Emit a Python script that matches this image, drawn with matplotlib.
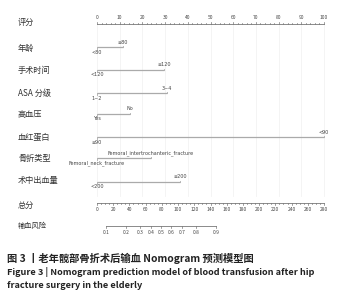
import numpy as np
import matplotlib
matplotlib.use("Agg")
import matplotlib.pyplot as plt

plt.rcParams['font.family'] = ['Noto Sans CJK SC', 'DejaVu Sans']

# ---- data ----
row_names = ["年龄", "手术时间", "ASA 分级", "高血压", "血红蛋白", "骨折类型", "术中出血量"]
level_low = ["<80", "<120", "1~2", "Yes", "≥90", "Femoral_neck_fracture", "<200"]
level_high = ["≥80", "≥120", "3~4", "No", "<90", "Femoral_intertrochanteric_fracture", "≥200"]
level_points = [11.3, 29.5, 30.8, 14.5, 100.0, 23.8, 36.6]

points_ticks = list(range(0, 101, 10))
total_ticks = list(range(0, 281, 20))
total_max = 280
risk_ticks = [0.1, 0.2, 0.3, 0.4, 0.5, 0.6, 0.7, 0.8, 0.9]
risk_intercept_tp = 79.0   # total points at risk 0.5
risk_slope = 0.0324        # logit per total point

# ---- layout (pixel rows) ----
W, H = 345, 300
x0_px, x100_px = 97.0, 324.0
pxpp = (x100_px - x0_px) / 100.0
fig = plt.figure(figsize=(W / 100, H / 100), dpi=100)
ax = fig.add_axes([0, 0, 1, 1])
ax.set_xlim(-x0_px / pxpp, (W - x0_px) / pxpp)
ax.set_ylim(H, 0)
ax.axis('off')

lab_x = -x0_px / pxpp + 18 / pxpp
lab_color = '#333333'
line_col = '#aaaaaa'
axis_col = '#777777'
tick_fs = 3.5
name_fs = 5.9

# faint grid
for p in points_ticks:
    ax.plot([p, p], [24, 196], color='#f3f3f3', lw=0.6, zorder=0)

# Points axis
y_pts = 24
ax.text(lab_x, 22, "评分", fontsize=name_fs, color=lab_color, va='center', ha='left')
ax.plot([0, 100], [y_pts, y_pts], color=axis_col, lw=0.6)
for p in np.arange(0, 101, 2):
    major = (p % 10 == 0)
    ax.plot([p, p], [y_pts, y_pts - (2.2 if major else 1.3)], color=axis_col, lw=0.5)
for p in points_ticks:
    ax.text(p, y_pts - 4, str(p), fontsize=tick_fs, ha='center', va='bottom', color='#444444')

# variable rows
row_line_y = [47, 70, 93, 114, 137, 158, 182]
row_label_y = [48, 70, 93, 115, 137, 158, 181]
for name, lo, hi, pts, yl, yt in zip(row_names, level_low, level_high, level_points, row_line_y, row_label_y):
    ax.text(lab_x, yt, name, fontsize=name_fs, color=lab_color, va='center', ha='left')
    ax.plot([0, pts], [yl, yl], color=line_col, lw=0.9, solid_capstyle='butt')
    ax.plot([0, 0], [yl, yl + 1.5], color=line_col, lw=0.6)
    ax.plot([pts, pts], [yl, yl - 1.5], color=line_col, lw=0.6)
    ax.text(0, yl + 2.5, lo, fontsize=tick_fs, ha='center', va='top', color='#444444',
            family=['DejaVu Sans'])
    ax.text(pts, yl - 2.5, hi, fontsize=tick_fs, ha='center', va='bottom', color='#444444',
            family=['DejaVu Sans'])

# Total points axis
y_tot = 203
ax.text(lab_x, 205, "总分", fontsize=name_fs, color=lab_color, va='center', ha='left')
scale = 100.0 / total_max
ax.plot([0, total_max * scale], [y_tot, y_tot], color=axis_col, lw=0.6)
for t in np.arange(0, total_max + 1, 5):
    major = (t % 20 == 0)
    ax.plot([t * scale, t * scale], [y_tot, y_tot + (2.2 if major else 1.3)], color=axis_col, lw=0.5)
for t in total_ticks:
    ax.text(t * scale, y_tot + 4, str(t), fontsize=tick_fs, ha='center', va='top', color='#444444')

# Risk axis
y_risk = 226
ax.text(lab_x, 226, "输血风险", fontsize=5.2, color=lab_color, va='center', ha='left')
risk_tp = [risk_intercept_tp + np.log(r / (1 - r)) / risk_slope for r in risk_ticks]
ax.plot([risk_tp[0] * scale, risk_tp[-1] * scale], [y_risk, y_risk], color=axis_col, lw=0.6)
for r, tp in zip(risk_ticks, risk_tp):
    ax.plot([tp * scale, tp * scale], [y_risk, y_risk + 2], color=axis_col, lw=0.5)
    ax.text(tp * scale, y_risk + 4, f"{r:.1f}", fontsize=tick_fs, ha='center', va='top', color='#444444')

# captions
cap_x = -x0_px / pxpp + 7 / pxpp
ax.text(cap_x, 258, "图 3 丨老年髋部骨折术后输血 Nomogram 预测模型图", fontsize=7.4,
        fontweight='bold', color='#222222', va='center', ha='left')
ax.text(cap_x, 272, "Figure 3 | Nomogram prediction model of blood transfusion after hip",
        fontsize=6.6, fontweight='bold', color='#222222', va='center', ha='left')
ax.text(cap_x, 286, "fracture surgery in the elderly",
        fontsize=6.6, fontweight='bold', color='#222222', va='center', ha='left')

fig.savefig("out.png", dpi=100)
